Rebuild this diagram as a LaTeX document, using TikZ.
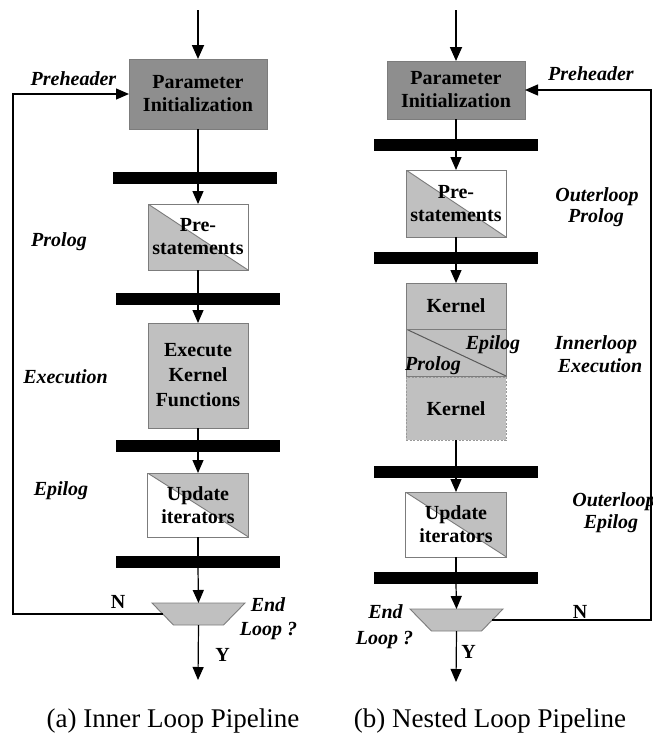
\documentclass[tikz,border=0pt]{standalone}
\usepackage{fontspec}
\setmainfont{Liberation Serif}
\usetikzlibrary{arrows.meta}

\definecolor{darkfill}{HTML}{8E8E8E}
\definecolor{lightfill}{HTML}{C0C0C0}
\definecolor{edgegray}{HTML}{7C7C7C}

\begin{document}
\begin{tikzpicture}[x=1pt,y=-1pt,
  every node/.style={inner sep=0pt,outer sep=0pt},
  blk/.style={draw=edgegray,line width=0.9pt,align=center,
    font=\fontsize{20}{23}\selectfont\bfseries},
  stagebox/.style={blk,fill=lightfill,minimum width=100pt},
  initbox/.style={blk,fill=darkfill,minimum width=138pt},
  lowerleft/.style={fill=white,path picture={
      \fill[lightfill] (path picture bounding box.north west) -- (path picture bounding box.south east)
        -- (path picture bounding box.south west) -- cycle;
      \draw[edgegray,line width=0.9pt] (path picture bounding box.north west) -- (path picture bounding box.south east);}},
  upperright/.style={fill=white,path picture={
      \fill[lightfill] (path picture bounding box.north west) -- (path picture bounding box.north east)
        -- (path picture bounding box.south east) -- cycle;
      \draw[edgegray,line width=0.9pt] (path picture bounding box.north west) -- (path picture bounding box.south east);}},
  splitbox/.style={fill=lightfill,path picture={
      \draw[black!65,line width=1pt] (path picture bounding box.north west) -- (path picture bounding box.south east);}},
  bar/.style={fill=black,minimum width=164pt,minimum height=12pt},
  lbl/.style={font=\fontsize{20}{21}\selectfont\bfseries\itshape,anchor=base},
  yn/.style={font=\fontsize{20}{21}\selectfont\bfseries,anchor=base},
  captext/.style={font=\fontsize{27}{30}\selectfont,anchor=base},
  flow/.style={line width=1.2pt},
  tip/.style={flow,-{Triangle[width=11pt,length=13pt]}},
  entry/.style={line width=1.8pt,-{Triangle[width=12pt,length=14pt]}},
  % frame of the decision block; the trapezoid itself is drawn by \decision
  decide/.style={minimum width=93pt,minimum height=22pt}
]
\newcommand{\decision}[1]{%
  \filldraw[fill=lightfill,draw=edgegray,line width=0.9pt]
    (#1.north west) -- (#1.north east) -- ([xshift=-21.5pt]#1.south east)
    -- ([xshift=21.5pt]#1.south west) -- cycle;}
\useasboundingbox (0,0) rectangle (653,736);

% ---------------- (a) inner loop pipeline ----------------
\coordinate (Lin) at (198,10);
\node[initbox,minimum height=70pt] (Lpinit) at (198,94) {Parameter\\Initialization};
\node[bar] (Lbar1) at (195,178) {};
\node[blk,lowerleft,minimum width=100pt,minimum height=66pt] (Lpre) at (198,237) {Pre-\\statements};
\node[bar] (Lbar2) at (198,299) {};
\node[stagebox,minimum height=105pt,font=\fontsize{20}{25}\selectfont\bfseries] (Lexec) at (198,375.5) {Execute\\Kernel\\Functions};
\node[bar] (Lbar3) at (198,446) {};
\node[blk,upperright,minimum width=101pt,minimum height=64pt] (Lupd) at (198,505) {Update\\iterators};
\node[bar] (Lbar4) at (198,562) {};
\node[decide] (Ltrap) at (198.5,614) {};
\decision{Ltrap}
\coordinate (Lout) at (198,680);
\coordinate (Lrail) at (13,350);

\draw[entry] (Lin) -- (Lpinit.north);
\draw[flow] (Lpinit.south) -- (Lpinit.south |- Lbar1.north);
\draw[tip] (Lpinit.south |- Lbar1.south) -- (Lpre.north);
\draw[flow] (Lpre.south) -- (Lbar2.north);
\draw[tip] (Lbar2.south) -- (Lexec.north);
\draw[flow] (Lexec.south) -- (Lbar3.north);
\draw[tip] (Lbar3.south) -- (Lupd.north);
\draw[flow] (Lupd.south) -- (Lbar4.north);
\draw[tip] (Lbar4.south) -- (Ltrap.north);
\draw[tip] (Ltrap.south) -- (Lout);
\draw[tip] ([xshift=10.75pt]Ltrap.west) -| (Lrail) |- (Lpinit.west);

\node[lbl] (Lpreh) at (73.5,85) {Preheader};
\node[lbl] (Lprolog) at (59,246) {Prolog};
\node[lbl] (Lexecl) at (65.5,383) {Execution};
\node[lbl] (Lepilog) at (61,495) {Epilog};
\node[yn] (Lno) at (118,608) {N};
\node[lbl] (Lend) at (268,611) {End};
\node[lbl] (Lloop) at (268.5,635) {Loop ?};
\node[yn] (Lyes) at (222.5,661) {Y};
\node[captext] (Lcap) at (173,727) {(a) Inner Loop Pipeline};

% ---------------- (b) nested loop pipeline ----------------
\coordinate (Rin) at (456,10);
\node[initbox,minimum height=58pt] (Rpinit) at (456,90) {Parameter\\Initialization};
\node[bar] (Rbar1) at (456,145) {};
\node[blk,lowerleft,minimum width=100pt,minimum height=67pt] (Rpre) at (456,203.5) {Pre-\\statements};
\node[bar] (Rbar2) at (456,258) {};
\node[stagebox,minimum height=46pt] (Rkern1) at (456,306) {Kernel};
\node[blk,splitbox,minimum width=100pt,minimum height=47pt] (Rsplit) at (456,352.5) {};
\node[stagebox,draw=black!40,dash pattern=on 2pt off 1.5pt,minimum height=63pt] (Rkern2) at (456,408.5) {Kernel};
\node[bar] (Rbar3) at (456,472) {};
\node[blk,upperright,minimum width=101pt,minimum height=65pt] (Rupd) at (456,524.5) {Update\\iterators};
\node[bar] (Rbar4) at (456,578) {};
\node[decide] (Rtrap) at (456.5,620) {};
\decision{Rtrap}
\coordinate (Rout) at (456,682);
\coordinate (Rrail) at (651,350);

\draw[entry] (Rin) -- (Rpinit.north);
\draw[flow] (Rpinit.south) -- (Rbar1.north);
\draw[tip] (Rbar1.south) -- (Rpre.north);
\draw[flow] (Rpre.south) -- (Rbar2.north);
\draw[tip] (Rbar2.south) -- (Rkern1.north);
\draw[flow] (Rkern2.south) -- (Rbar3.north);
\draw[tip] (Rbar3.south) -- (Rupd.north);
\draw[flow] (Rupd.south) -- (Rbar4.north);
\draw[tip] (Rbar4.south) -- (Rtrap.north);
\draw[tip] (Rtrap.south) -- (Rout);
\draw[tip] ([xshift=-10.75pt]Rtrap.east) -| (Rrail) |- (Rpinit.east);

\node[lbl] (Repi) at (493,349) {Epilog};
\node[lbl] (Rpro) at (433,370) {Prolog};
\node[lbl] (Rpreh) at (591,80) {Preheader};
\node[lbl] (Rolp1) at (597,201) {Outerloop};
\node[lbl] (Rolp2) at (596,222) {Prolog};
\node[lbl] (Ril1) at (596,349) {Innerloop};
\node[lbl] (Ril2) at (600,372) {Execution};
\node[lbl] (Role1) at (614,506) {Outerloop};
\node[lbl] (Role2) at (611,528) {Epilog};
\node[lbl] (Rend) at (385.5,618) {End};
\node[lbl] (Rloop) at (384.5,644) {Loop ?};
\node[yn] (Rno) at (580,618) {N};
\node[yn] (Ryes) at (468.5,658) {Y};
\node[captext] (Rcap) at (490,727) {(b) Nested Loop Pipeline};
\end{tikzpicture}
\end{document}
